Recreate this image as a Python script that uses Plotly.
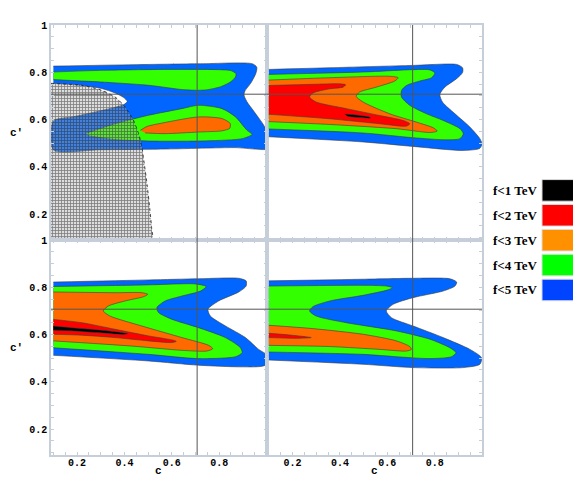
import plotly.graph_objects as go
from plotly.subplots import make_subplots

# guide lines at c = c' = 1/sqrt(2)
REF = 0.7071

# contour bands, (c, c') outlines
TL_BLUE = [(0.10, 0.826), (0.44, 0.832), (0.722, 0.836), (0.94, 0.836), (0.959, 0.821), (0.955, 0.795),
           (0.933, 0.753), (0.909, 0.721), (0.905, 0.704), (0.917, 0.676), (0.948, 0.633), (0.983, 0.584),
           (1.01, 0.535), (1.02, 0.478), (0.863, 0.481), (0.581, 0.475), (0.299, 0.472), (0.10, 0.471),
           (0.10, 0.594), (0.186, 0.612), (0.290, 0.635), (0.361, 0.652), (0.397, 0.663), (0.412, 0.676),
           (0.397, 0.693), (0.361, 0.712), (0.304, 0.731), (0.228, 0.743), (0.10, 0.753)]
TL_GREEN_UP = [(0.10, 0.801), (0.299, 0.808), (0.581, 0.812), (0.792, 0.811), (0.849, 0.807), (0.871, 0.794),
               (0.869, 0.780), (0.849, 0.760), (0.807, 0.739), (0.750, 0.726), (0.713, 0.724), (0.651, 0.726),
               (0.502, 0.745), (0.299, 0.759), (0.220, 0.763), (0.10, 0.769)]
TL_GREEN_LOW = [(0.234, 0.540), (0.361, 0.582), (0.502, 0.618), (0.643, 0.646), (0.713, 0.660), (0.812, 0.646),
                (0.869, 0.611), (0.918, 0.554), (0.939, 0.537), (0.897, 0.519), (0.713, 0.509), (0.502, 0.509),
                (0.361, 0.515), (0.262, 0.529)]
TL_ORANGE = [(0.467, 0.554), (0.496, 0.571), (0.544, 0.582), (0.713, 0.611), (0.812, 0.604), (0.847, 0.583),
             (0.845, 0.563), (0.812, 0.552), (0.713, 0.547), (0.572, 0.540), (0.488, 0.543)]
TL_EXCLUDED = [(0.09, 0.753), (0.220, 0.745), (0.304, 0.724), (0.361, 0.695), (0.403, 0.653), (0.438, 0.597),
               (0.460, 0.540), (0.474, 0.484), (0.481, 0.434), (0.496, 0.323), (0.507, 0.224), (0.515, 0.140),
               (0.517, 0.09), (0.09, 0.09)]

TR_BLUE = [(0.10, 0.812), (0.357, 0.819), (0.709, 0.829), (0.893, 0.833), (0.918, 0.819), (0.918, 0.799),
           (0.893, 0.773), (0.843, 0.737), (0.822, 0.706), (0.833, 0.674), (0.886, 0.624), (0.949, 0.568),
           (0.991, 0.519), (1.0, 0.497), (0.991, 0.478), (0.921, 0.469), (0.709, 0.486), (0.498, 0.505),
           (0.10, 0.527)]
TR_GREEN = [(0.10, 0.791), (0.498, 0.801), (0.709, 0.811), (0.780, 0.810), (0.801, 0.797), (0.787, 0.777),
            (0.737, 0.763), (0.681, 0.744), (0.660, 0.723), (0.660, 0.695), (0.695, 0.660), (0.766, 0.624),
            (0.836, 0.596), (0.907, 0.561), (0.921, 0.540), (0.907, 0.519), (0.850, 0.514), (0.709, 0.523),
            (0.498, 0.543), (0.10, 0.560)]
TR_ORANGE = [(0.10, 0.767), (0.357, 0.777), (0.611, 0.783), (0.646, 0.777), (0.632, 0.763), (0.554, 0.737),
             (0.483, 0.716), (0.469, 0.698), (0.498, 0.674), (0.611, 0.624), (0.723, 0.589), (0.794, 0.565),
             (0.811, 0.551), (0.780, 0.545), (0.639, 0.561), (0.357, 0.579), (0.10, 0.591)]
TR_RED = [(0.10, 0.744), (0.286, 0.749), (0.399, 0.751), (0.424, 0.747), (0.413, 0.737), (0.357, 0.730),
          (0.286, 0.712), (0.272, 0.695), (0.300, 0.674), (0.427, 0.646), (0.568, 0.617), (0.667, 0.596),
          (0.695, 0.582), (0.681, 0.572), (0.568, 0.582), (0.357, 0.603), (0.10, 0.622)]
TR_BLACK = [(0.420, 0.623), (0.469, 0.619), (0.526, 0.610), (0.529, 0.606), (0.484, 0.608), (0.434, 0.613)]

BL_BLUE = [(0.10, 0.822), (0.502, 0.831), (0.713, 0.836), (0.883, 0.838), (0.914, 0.827), (0.914, 0.805),
           (0.883, 0.780), (0.798, 0.742), (0.753, 0.707), (0.763, 0.678), (0.827, 0.636), (0.911, 0.587),
           (0.967, 0.537), (1.02, 0.50), (0.99, 0.468), (0.897, 0.463), (0.713, 0.470), (0.502, 0.488),
           (0.10, 0.512)]
BL_GREEN = [(0.10, 0.803), (0.502, 0.810), (0.699, 0.814), (0.745, 0.803), (0.721, 0.784), (0.643, 0.763),
            (0.572, 0.742), (0.537, 0.714), (0.544, 0.693), (0.601, 0.664), (0.713, 0.629), (0.826, 0.587),
            (0.890, 0.544), (0.897, 0.523), (0.869, 0.506), (0.713, 0.498), (0.502, 0.516), (0.10, 0.544)]
BL_ORANGE = [(0.10, 0.780), (0.361, 0.777), (0.474, 0.777), (0.499, 0.770), (0.481, 0.760), (0.403, 0.742),
             (0.333, 0.721), (0.311, 0.700), (0.340, 0.678), (0.474, 0.636), (0.643, 0.587), (0.756, 0.554),
             (0.773, 0.540), (0.749, 0.530), (0.643, 0.533), (0.431, 0.551), (0.10, 0.573)]
BL_RED = [(0.10, 0.664), (0.220, 0.650), (0.361, 0.622), (0.502, 0.594), (0.601, 0.577), (0.619, 0.571),
          (0.601, 0.566), (0.502, 0.573), (0.361, 0.587), (0.220, 0.597), (0.10, 0.601)]
BL_BLACK = [(0.10, 0.636), (0.220, 0.625), (0.333, 0.615), (0.414, 0.604), (0.396, 0.600), (0.290, 0.608),
            (0.163, 0.616), (0.10, 0.618)]

BR_BLUE = [(0.10, 0.827), (0.498, 0.834), (0.709, 0.838), (0.864, 0.836), (0.893, 0.822), (0.886, 0.805),
           (0.836, 0.784), (0.709, 0.756), (0.625, 0.728), (0.596, 0.700), (0.618, 0.671), (0.709, 0.636),
           (0.836, 0.587), (0.949, 0.537), (0.998, 0.502), (0.991, 0.474), (0.921, 0.460), (0.709, 0.460),
           (0.498, 0.474), (0.10, 0.492)]
BR_GREEN = [(0.10, 0.805), (0.498, 0.808), (0.596, 0.805), (0.622, 0.798), (0.603, 0.789), (0.498, 0.766),
            (0.357, 0.742), (0.286, 0.718), (0.272, 0.700), (0.300, 0.678), (0.427, 0.650), (0.639, 0.615),
            (0.780, 0.580), (0.864, 0.544), (0.890, 0.523), (0.871, 0.506), (0.780, 0.498), (0.639, 0.506),
            (0.498, 0.516), (0.10, 0.526)]
BR_ORANGE = [(0.10, 0.639), (0.286, 0.625), (0.498, 0.601), (0.639, 0.573), (0.695, 0.549), (0.702, 0.537),
             (0.681, 0.530), (0.568, 0.537), (0.357, 0.549), (0.10, 0.554)]
BR_RED = [(0.10, 0.605), (0.187, 0.598), (0.279, 0.587), (0.215, 0.584), (0.10, 0.587)]

LEGEND_LABELS = ["f<1 TeV", "f<2 TeV", "f<3 TeV", "f<4 TeV", "f<5 TeV"]
LEGEND_COLORS = ["#000000", "#ff0000", "#ff9000", "#00ff00", "#0044ff"]

BLUE, GREEN, ORANGE, RED, BLACK = "#0066ff", "#33ff00", "#ff6a00", "#ff0000", "#000000"

panels = {
    (1, 1): [(TL_BLUE, BLUE), (TL_GREEN_UP, GREEN), (TL_GREEN_LOW, GREEN), (TL_ORANGE, ORANGE)],
    (1, 2): [(TR_BLUE, BLUE), (TR_GREEN, GREEN), (TR_ORANGE, ORANGE), (TR_RED, RED), (TR_BLACK, BLACK)],
    (2, 1): [(BL_BLUE, BLUE), (BL_GREEN, GREEN), (BL_ORANGE, ORANGE), (BL_RED, RED), (BL_BLACK, BLACK)],
    (2, 2): [(BR_BLUE, BLUE), (BR_GREEN, GREEN), (BR_ORANGE, ORANGE), (BR_RED, RED)],
}

fig = make_subplots(rows=2, cols=2, horizontal_spacing=0, vertical_spacing=0)

for (row, col), bands in panels.items():
    for pts, color in bands:
        fig.add_trace(go.Scatter(
            x=[p[0] for p in pts], y=[p[1] for p in pts],
            mode="lines", fill="toself", fillcolor=color,
            line=dict(color="#3a3a3a", width=0.6, shape="spline", smoothing=0.7),
            hoverinfo="skip", showlegend=False,
        ), row=row, col=col)

# excluded region, dotted grid
fig.add_trace(go.Scatter(
    x=[p[0] for p in TL_EXCLUDED], y=[p[1] for p in TL_EXCLUDED],
    mode="lines", fill="toself", fillcolor="rgba(170,170,170,0.4)",
    fillpattern=dict(shape="+", size=3, solidity=0.45, fgcolor="#1a1a1a", fillmode="overlay"),
    line=dict(color="#222222", width=0.8, dash="dot", shape="spline", smoothing=0.6),
    hoverinfo="skip", showlegend=False,
), row=1, col=1)

for row in (1, 2):
    for col in (1, 2):
        fig.add_vline(x=REF, line=dict(color="#555555", width=1), row=row, col=col)
        fig.add_hline(y=REF, line=dict(color="#555555", width=1), row=row, col=col)

tick_font = dict(family="Liberation Mono", size=10, color="black", weight="bold")
frame = "#c6ced9"

fig.update_xaxes(
    range=[0.09, 1.0], tickvals=[0.2, 0.4, 0.6, 0.8], ticktext=["0.2", "0.4", "0.6", "0.8"],
    ticks="inside", ticklen=3, tickcolor=frame, showline=True, linecolor=frame, linewidth=1.5,
    mirror="ticks", showgrid=False, zeroline=False, tickfont=tick_font, ticklabelstandoff=-3,
    minor=dict(ticks="inside", dtick=0.05, tick0=0, ticklen=3, tickcolor=frame),
)
fig.update_yaxes(
    range=[0.09, 1.0], tickvals=[0.2, 0.4, 0.6, 0.8, 1.0], ticktext=["0.2", "0.4", "0.6", "0.8", "1"],
    ticks="inside", ticklen=3, tickcolor=frame, showline=True, linecolor=frame, linewidth=1.5,
    mirror="ticks", showgrid=False, zeroline=False, tickfont=tick_font,
    minor=dict(ticks="inside", dtick=0.05, tick0=0, ticklen=3, tickcolor=frame),
)
fig.update_xaxes(showticklabels=False, row=1)
fig.update_yaxes(showticklabels=False, col=2)

ann_font = dict(family="Liberation Mono", size=11, color="black", weight="bold")
for yc in (0.75, 0.25):
    fig.add_annotation(text="c'", x=-0.079, y=yc, xref="paper", yref="paper",
                       xanchor="center", yanchor="middle", showarrow=False, font=ann_font)
for xc in (0.25, 0.75):
    fig.add_annotation(text="c", x=xc, y=-0.037, xref="paper", yref="paper",
                       xanchor="center", yanchor="middle", showarrow=False, font=ann_font)

# legend: label on the left, colour swatch on the right
box_top, box_h, step = 0.6405, 0.0502, 0.0579
for i, (label, color) in enumerate(zip(LEGEND_LABELS, LEGEND_COLORS)):
    y1 = box_top - i * step
    y0 = y1 - box_h
    fig.add_shape(type="rect", xref="paper", yref="paper", x0=1.1392, x1=1.2251, y0=y0, y1=y1,
                  fillcolor=color, line=dict(color="#dddddd", width=1))
    fig.add_annotation(text="<b>" + label + "</b>", x=1.1346, y=(y0 + y1) / 2, xref="paper", yref="paper",
                       xanchor="right", showarrow=False,
                       font=dict(family="Liberation Serif", size=13, color="black"))

# page body adds an 8px offset, so the figure is 8px smaller than the window
fig.update_layout(
    width=573, height=486,
    margin=dict(l=43, r=99, t=15, b=39),
    plot_bgcolor="white", paper_bgcolor="white",
)

fig.write_html("out.html")
